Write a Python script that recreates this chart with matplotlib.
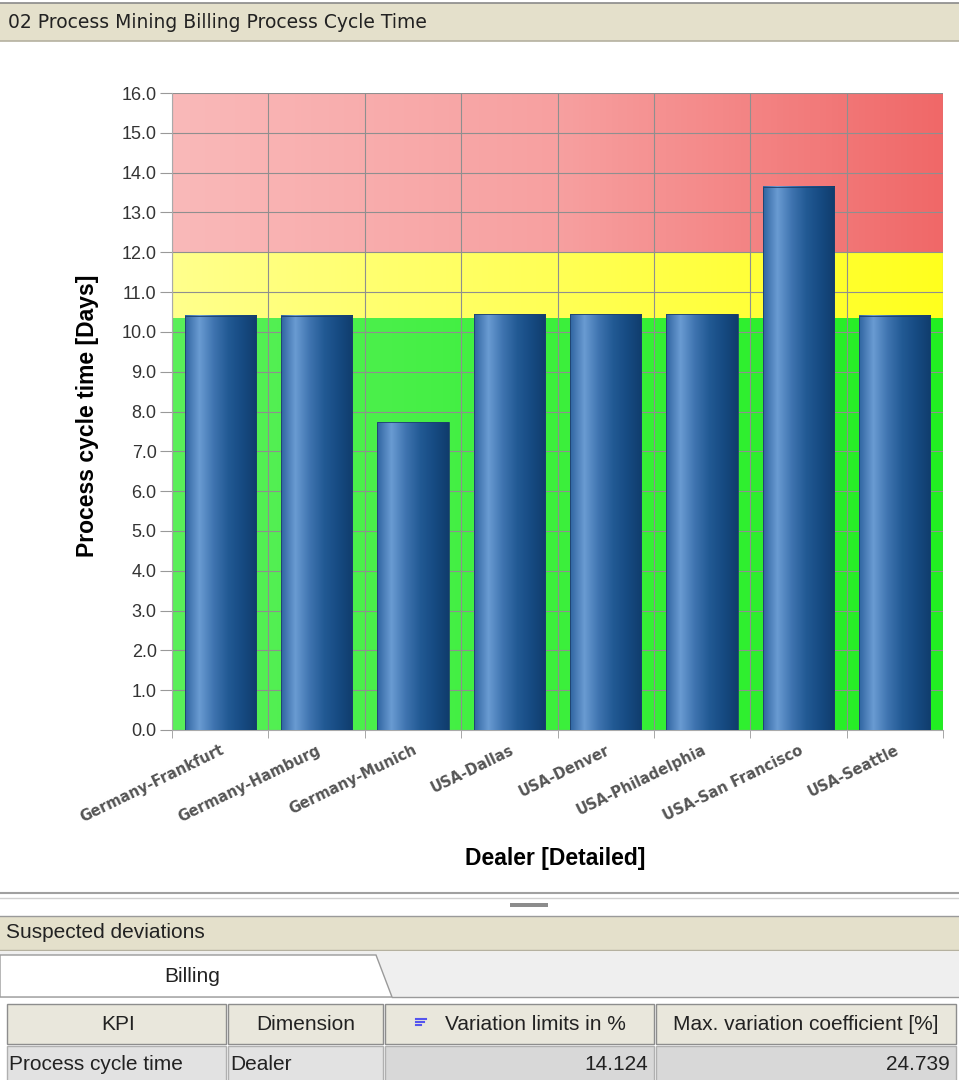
import numpy as np
import matplotlib.pyplot as plt
from matplotlib.colors import LinearSegmentedColormap
from matplotlib.patches import Rectangle, Polygon
from matplotlib.ticker import FormatStrFormatter

# data
dealers = ["Germany-Frankfurt", "Germany-Hamburg", "Germany-Munich", "USA-Dallas",
           "USA-Denver", "USA-Philadelphia", "USA-San Francisco", "USA-Seattle"]
cycle_days = [10.40, 10.40, 7.73, 10.44, 10.44, 10.44, 13.64, 10.40]
green_limit = 10.35
yellow_limit = 12.0
y_max = 16.0
y_ticks = np.arange(0, 17, 1.0)

panel_title = "02 Process Mining Billing Process Cycle Time"
lower_title = "Suspected deviations"
tab_name = "Billing"
table_cols = ["KPI", "Dimension", "Variation limits in %", "Max. variation coefficient [%]"]
table_row = ["Process cycle time", "Dealer", "14.124", "24.739"]

W, H = 959, 1080
fig = plt.figure(figsize=(W / 100, H / 100), dpi=100)
fig.patch.set_facecolor("white")

# ---- chart ----
ax = fig.add_axes([172 / W, 350 / H, 771 / W, 637 / H])
x = np.arange(len(dealers))
xlo, xhi = -0.5, len(dealers) - 0.5

grad = np.linspace(0, 1, 256).reshape(1, -1)
bands = [
    (0, green_limit, ["#5aef5a", "#3cf03c", "#22ee22"]),
    (green_limit, yellow_limit, ["#ffff8c", "#ffff55", "#ffff1e"]),
    (yellow_limit, y_max, ["#fab9b9", "#f7a0a0", "#f06868"]),
]
for lo, hi, cols in bands:
    cm = LinearSegmentedColormap.from_list("band", cols)
    ax.imshow(grad, extent=(xlo, xhi, lo, hi), aspect="auto", cmap=cm, zorder=0)

bar_cmap = LinearSegmentedColormap.from_list(
    "bar", ["#2f64a0", "#6a9bd2", "#3f74b0", "#225a94", "#164a82", "#103c6c"])
bars = ax.bar(x, cycle_days, width=0.74, color="none", edgecolor="#1d406c",
              linewidth=0.6, zorder=4)
for b in bars:
    bx, by = b.get_x(), b.get_y()
    ax.imshow(grad, extent=(bx, bx + b.get_width(), by, by + b.get_height()),
              aspect="auto", cmap=bar_cmap, zorder=3)

ax.set_xlim(xlo, xhi)
ax.set_ylim(0, y_max)
ax.set_yticks(y_ticks)
ax.yaxis.set_major_formatter(FormatStrFormatter("%.1f"))
ax.set_xticks(x)
ax.set_xticks(np.arange(xlo, xhi + 0.01, 1.0), minor=True)
ax.set_xticklabels(dealers, rotation=26, ha="right", va="top",
                   rotation_mode="anchor", fontsize=10.5, color="#555555",
                   fontweight="bold")
ax.tick_params(axis="x", which="major", length=0, pad=9)
ax.tick_params(axis="x", which="minor", length=6, color="#999999")
ax.tick_params(axis="y", length=9, color="#999999", labelsize=13,
               labelcolor="#333333", pad=2)
for t in ax.get_yticklabels():
    t.set_family("Liberation Sans")
ax.set_axisbelow(True)
ax.grid(axis="y", color="#8f8f8f", linewidth=0.8)
ax.grid(axis="x", which="minor", color="#8f8f8f", linewidth=0.8)
for s in ["top", "right"]:
    ax.spines[s].set_visible(False)
for s in ["left", "bottom"]:
    ax.spines[s].set_color("#aaaaaa")

ax.set_ylabel("Process cycle time [Days]", fontsize=16.5, fontweight="bold",
              family="Liberation Sans")
ax.yaxis.set_label_coords(-0.095, 0.493)
ax.set_xlabel("Dealer [Detailed]", fontsize=16.5, fontweight="bold",
              family="Liberation Sans")
ax.xaxis.set_label_coords(0.497, -0.183)

# ---- window decorations in pixel coordinates ----
deco = fig.add_axes([0, 0, 1, 1], zorder=-1)
deco.set_xlim(0, W)
deco.set_ylim(H, 0)
deco.axis("off")

deco.add_patch(Rectangle((0, 3), W, 38, facecolor="#e4e0cb", edgecolor="none"))
deco.plot([0, W], [3, 3], color="#8a8a8a", lw=1.2)
deco.plot([0, W], [41, 41], color="#b5b1a0", lw=1.2)
deco.text(8, 23, panel_title, fontsize=13.5, va="center", color="#222222")

# splitter
deco.plot([0, W], [893, 893], color="#a0a0a0", lw=1.5)
deco.plot([0, W], [898, 898], color="#d0d0d0", lw=1)
deco.add_patch(Rectangle((510, 903), 38, 4, facecolor="#8c8c8c", edgecolor="none"))

# lower panel header
deco.add_patch(Rectangle((0, 916), W, 34, facecolor="#e4e0cb", edgecolor="none"))
deco.plot([0, W], [916, 916], color="#9a9a9a", lw=1)
deco.plot([0, W], [950, 950], color="#b5b1a0", lw=1)
deco.text(6, 933, lower_title, fontsize=15, va="center", color="#222222",
          family="Liberation Sans")

# tab strip
deco.add_patch(Rectangle((0, 952), W, 46, facecolor="#efefef", edgecolor="none"))
deco.add_patch(Polygon([(0, 955), (376, 955), (392, 997), (0, 997)], closed=True,
                       facecolor="white", edgecolor="#9a9a9a", lw=1))
deco.plot([392, W], [997, 997], color="#9a9a9a", lw=1)
deco.text(192, 976, tab_name, fontsize=15, ha="center", va="center",
          color="#222222", family="Liberation Sans")

# table
col_edges = [6, 227, 384, 655, 957]
text_shift = [2, 0, 16, 0]
head_y, row_y, row_h = 1004, 1046, 40
for i, name in enumerate(table_cols):
    x0, x1 = col_edges[i] + 1, col_edges[i + 1] - 1
    deco.add_patch(Rectangle((x0, head_y), x1 - x0, row_h, facecolor="#e9e7dc",
                             edgecolor="#8d8d8d", lw=1))
    deco.text((x0 + x1) / 2 + text_shift[i], head_y + row_h / 2 + 1, name,
              fontsize=15, ha="center", va="center", color="#222222",
              family="Liberation Sans")
for i, val in enumerate(table_row):
    x0, x1 = col_edges[i] + 1, col_edges[i + 1] - 1
    face = "#e2e2e2" if i < 2 else "#d8d8d8"
    deco.add_patch(Rectangle((x0, row_y), x1 - x0, 40, facecolor=face,
                             edgecolor="#b0b0b0", lw=1))
    if i < 2:
        deco.text(x0 + 2, row_y + 18, val, fontsize=15, ha="left", va="center",
                  color="#222222", family="Liberation Sans")
    else:
        deco.text(x1 - 6, row_y + 18, val, fontsize=15, ha="right", va="center",
                  color="#222222", family="Liberation Sans")

# sort icon
for k, ln in enumerate([10, 8, 5]):
    deco.plot([416, 416 + ln], [1019 + 3 * k, 1019 + 3 * k], color="#5555ee", lw=1.5)

fig.savefig("out.png", dpi=100)
